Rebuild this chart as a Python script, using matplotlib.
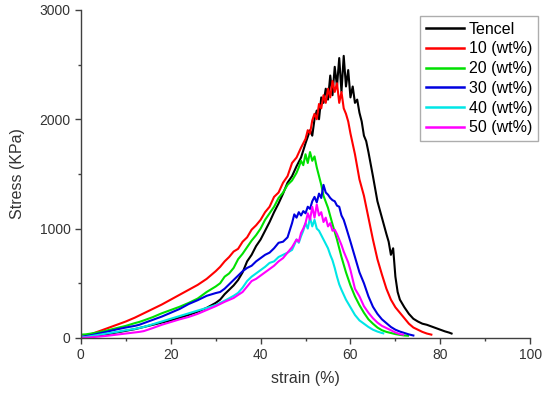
import matplotlib
matplotlib.use("Agg")
import matplotlib.pyplot as plt
from matplotlib.ticker import MultipleLocator

plt.rcParams['font.family'] = ['Liberation Sans', 'DejaVu Sans']

# Tencel
x_tencel = [0, 2, 4, 6, 8, 10, 12, 14, 16, 18, 20, 22, 24, 26, 28, 30, 31, 32, 33, 34, 35, 36, 37, 38, 39,
            40, 41, 42, 43, 44, 45, 46, 47, 48, 49, 50, 51, 51.5, 52, 52.5, 53, 53.5, 54, 54.5, 55, 55.5,
            56, 56.5, 57, 57.5, 58, 58.5, 59, 59.5, 60, 60.5, 61, 61.5, 62, 62.5, 63, 63.5, 64, 65, 66,
            67, 68, 68.5, 69, 69.5, 70, 70.5, 71, 72, 73, 74, 75, 76, 77, 78, 79, 80, 81, 82, 82.5]
y_tencel = [0, 10, 20, 35, 50, 65, 80, 100, 120, 140, 160, 185, 210, 240, 275, 320, 350, 400, 440, 480,
            530, 600, 700, 760, 840, 900, 980, 1060, 1150, 1230, 1320, 1420, 1480, 1570, 1650, 1780, 1900,
            1850, 2000, 2080, 2000, 2200, 2150, 2280, 2180, 2400, 2220, 2480, 2300, 2560, 2250, 2580, 2300,
            2450, 2200, 2300, 2150, 2180, 2060, 1980, 1850, 1800, 1700, 1480, 1250, 1100, 950, 880, 760,
            820, 560, 420, 350, 280, 220, 175, 150, 130, 120, 105, 90, 75, 60, 48, 40]

# 10 wt%
x_10 = [0, 1, 2, 3, 4, 5, 6, 7, 8, 9, 10, 12, 14, 16, 18, 20, 22, 24, 26, 28, 30, 31, 32, 33, 34, 35, 36,
        37, 38, 39, 40, 41, 42, 43, 44, 45, 46, 47, 48, 49, 50, 50.5, 51, 51.5, 52, 52.5, 53, 53.5, 54,
        54.5, 55, 55.5, 56, 56.5, 57, 57.5, 58, 58.5, 59, 59.5, 60, 61, 62, 63, 64, 65, 66, 67, 68, 69,
        70, 71, 72, 73, 74, 75, 76, 77, 78]
y_10 = [0, 15, 30, 45, 60, 75, 90, 105, 120, 135, 150, 185, 225, 265, 305, 350, 395, 440, 485, 540, 610,
        650, 700, 740, 790, 815, 880, 920, 990, 1030, 1080, 1150, 1200, 1290, 1330, 1420, 1480, 1600,
        1650, 1740, 1820, 1900, 1870, 1990, 2050, 2000, 2140, 2100, 2220, 2150, 2280, 2200, 2350, 2250,
        2330, 2150, 2250, 2100, 2050, 1980, 1870, 1680, 1450, 1300, 1100, 900, 720, 580, 450, 350, 280,
        230, 180, 130, 95, 75, 55, 40, 30]

# 20 wt%
x_20 = [0, 1, 2, 3, 4, 5, 6, 8, 10, 12, 13, 14, 16, 18, 20, 22, 24, 26, 28, 30, 31, 32, 33, 34, 35, 36,
        37, 38, 39, 40, 41, 42, 43, 44, 45, 46, 47, 48, 48.5, 49, 49.5, 50, 50.5, 51, 51.5, 52, 52.5, 53,
        53.5, 54, 55, 56, 57, 58, 59, 60, 61, 62, 63, 64, 65, 66, 67, 68, 69, 70, 71, 72, 72.8]
y_20 = [30, 32, 38, 45, 52, 60, 70, 90, 110, 135, 146, 160, 190, 225, 255, 285, 320, 360, 420, 470, 500,
        560, 590, 640, 720, 770, 830, 890, 940, 1000, 1080, 1140, 1200, 1280, 1330, 1400, 1440, 1510,
        1560, 1620, 1580, 1680, 1600, 1700, 1620, 1660, 1560, 1480, 1400, 1300, 1190, 1040, 900, 740,
        600, 480, 380, 300, 230, 170, 130, 95, 70, 55, 45, 35, 28, 22, 20]

# 30 wt%
x_30 = [0, 1, 2, 4, 6, 8, 10, 12, 13, 14, 16, 18, 20, 22, 24, 26, 28, 30, 31, 32, 33, 34, 35, 36, 37, 38,
        39, 40, 41, 42, 43, 44, 45, 46, 47, 47.5, 48, 48.5, 49, 49.5, 50, 50.5, 51, 51.5, 52, 52.5, 53,
        53.5, 54, 54.5, 55, 55.5, 56, 56.5, 57, 57.5, 58, 58.5, 59, 60, 61, 62, 63, 64, 65, 66, 67, 68,
        69, 70, 71, 72, 73, 74]
y_30 = [10, 15, 22, 40, 58, 78, 95, 110, 120, 135, 165, 195, 230, 265, 310, 345, 385, 410, 420, 450, 490,
        530, 570, 610, 640, 660, 700, 730, 760, 780, 820, 870, 880, 920, 1050, 1130, 1100, 1150, 1120,
        1160, 1140, 1200, 1180, 1250, 1290, 1240, 1320, 1280, 1400, 1330, 1310, 1280, 1260, 1250, 1210,
        1200, 1120, 1080, 1015, 880, 740, 600, 500, 380, 285, 220, 170, 135, 100, 75, 58, 45, 32, 22]

# 40 wt%
x_40 = [0, 1, 2, 4, 6, 8, 10, 12, 13, 14, 16, 18, 20, 22, 24, 26, 28, 30, 32, 34, 35, 36, 37, 38, 39, 40,
        41, 42, 43, 44, 45, 46, 47, 47.5, 48, 48.5, 49, 49.5, 50, 50.5, 51, 51.5, 52, 52.5, 53, 53.5, 54,
        54.5, 55, 55.5, 56, 56.5, 57, 57.5, 58, 59, 60, 61, 62, 63, 64, 65, 66, 67, 67.3]
y_40 = [5, 8, 15, 28, 42, 55, 70, 82, 91, 100, 125, 150, 175, 200, 225, 250, 274, 300, 340, 385, 412,
        460, 520, 560, 590, 620, 650, 686, 700, 740, 760, 780, 805, 850, 900, 870, 930, 980, 1050, 1000,
        1100, 1020, 1080, 1000, 980, 940, 900, 860, 820, 760, 710, 640, 560, 490, 440, 350, 280, 210,
        160, 130, 100, 75, 58, 45, 42]

# 50 wt%
x_50 = [0, 1, 2, 4, 6, 8, 10, 12, 13, 14, 16, 18, 20, 22, 24, 26, 28, 30, 32, 34, 35, 36, 37, 38, 39, 40,
        41, 42, 43, 44, 45, 46, 47, 48, 48.5, 49, 49.5, 50, 50.5, 51, 51.5, 52, 52.5, 53, 53.5, 54, 54.5,
        55, 55.5, 56, 56.5, 57, 57.5, 58, 58.5, 59, 59.5, 60, 61, 62, 63, 64, 65, 66, 67, 68, 69, 70, 71,
        71.7]
y_50 = [0, 2, 5, 12, 20, 30, 40, 50, 55, 62, 90, 120, 145, 170, 192, 220, 255, 290, 330, 365, 393, 420,
        470, 520, 540, 570, 600, 630, 660, 700, 730, 780, 830, 900, 880, 960, 1000, 1050, 1140, 1080,
        1200, 1100, 1220, 1120, 1150, 1060, 1100, 1020, 1050, 980, 990, 950, 900, 850, 790, 740, 690,
        620, 450, 380, 290, 230, 180, 140, 110, 90, 70, 50, 35, 30]

labels = ['Tencel', '10 (wt%)', '20 (wt%)', '30 (wt%)', '40 (wt%)', '50 (wt%)']
colors = ['#000000', '#ff0000', '#00e000', '#0000e0', '#00e6e6', '#ff00ff']

series = [(x_tencel, y_tencel), (x_10, y_10), (x_20, y_20),
          (x_30, y_30), (x_40, y_40), (x_50, y_50)]

fig = plt.figure(figsize=(5.5, 3.98), dpi=100)
ax = fig.add_axes([0.147, 0.151, 0.817, 0.824])

for (xs, ys), lab, c in zip(series, labels, colors):
    ax.plot(xs, ys, color=c, lw=1.5, label=lab)

ax.set_xlim(0, 100)
ax.set_ylim(0, 3000)
ax.xaxis.set_major_locator(MultipleLocator(20))
ax.xaxis.set_minor_locator(MultipleLocator(10))
ax.yaxis.set_major_locator(MultipleLocator(1000))
ax.yaxis.set_minor_locator(MultipleLocator(500))

for side in ['top', 'right']:
    ax.spines[side].set_visible(False)
for side in ['left', 'bottom']:
    ax.spines[side].set_color('#404040')
    ax.spines[side].set_linewidth(1.0)

ax.tick_params(which='major', direction='out', length=4.5, width=1.0, color='#404040',
               labelsize=10, labelcolor='#333333', pad=3)
ax.tick_params(which='minor', direction='out', length=2.5, width=1.0, color='#404040')

ax.set_xlabel('strain (%)', fontsize=11.5, color='#333333', labelpad=6)
ax.set_ylabel('Stress (KPa)', fontsize=11.5, color='#333333', labelpad=10)

leg = ax.legend(loc='upper right', bbox_to_anchor=(0.978, 0.960), bbox_transform=fig.transFigure,
                borderaxespad=0, fontsize=11.5, labelspacing=0.3, handlelength=2.4,
                handletextpad=0.3, borderpad=0.35, fancybox=False, frameon=True)
leg.get_frame().set_edgecolor('#999999')
leg.get_frame().set_linewidth(1.0)
for line in leg.get_lines():
    line.set_linewidth(1.8)

fig.savefig('out.png', dpi=100)
